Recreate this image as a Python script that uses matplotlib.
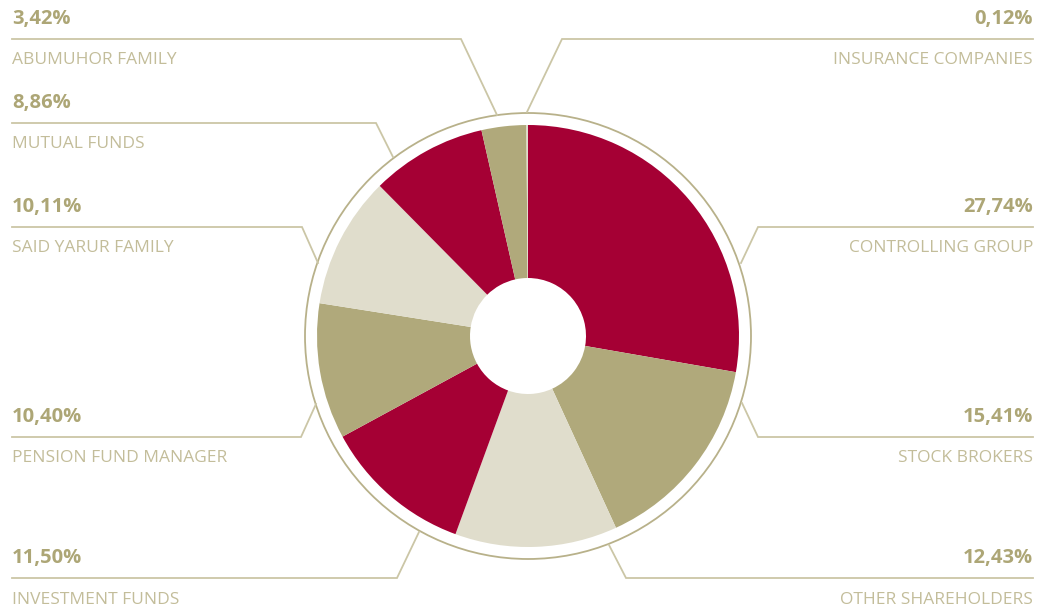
import matplotlib.pyplot as plt
from matplotlib.patches import Circle

# shareholders, clockwise from 12 o'clock
names = ["CONTROLLING GROUP", "STOCK BROKERS", "OTHER SHAREHOLDERS",
         "INVESTMENT FUNDS", "PENSION FUND MANAGER", "SAID YARUR FAMILY",
         "MUTUAL FUNDS", "ABUMUHOR FAMILY", "INSURANCE COMPANIES"]
shares = [27.74, 15.41, 12.43, 11.50, 10.40, 10.11, 8.86, 3.42, 0.12]

crimson = "#A50034"
khaki = "#B0A97B"
light = "#E0DDCC"
slice_colors = [crimson, khaki, light, crimson, khaki, light, crimson, khaki, light]

val_color = "#ADA676"
lab_color = "#C3BD9A"
line_color = "#CBC6A6"

W, H = 1040, 606
def Y(py):
    return H - py

# label layout in pixels: side, line y, bend x, end point on the ring
layout = [
    ("R", 227, 758, (741, 263)),
    ("R", 437, 758, (742, 403)),
    ("R", 578, 626, (609, 545)),
    ("L", 578, 397, (419, 532)),
    ("L", 437, 301, (316, 404)),
    ("L", 227, 302, (318, 263)),
    ("L", 123, 376, (393, 157)),
    ("L", 39, 461, (497, 115)),
    ("R", 39, 562, (527, 112)),
]

fig = plt.figure(figsize=(W / 100, H / 100), dpi=100)
ax = fig.add_axes([0, 0, 1, 1])

cx, cy = 528, 336
ax.pie(shares, colors=slice_colors, startangle=90, counterclock=False,
       radius=211, center=(cx, Y(cy)),
       wedgeprops=dict(width=211 - 58, linewidth=0))
ax.add_patch(Circle((cx, Y(cy)), 223, fill=False, edgecolor="#B8B18A", lw=1.3))

for name, val, (side, ly, bx, (ex, ey)) in zip(names, shares, layout):
    if side == "L":
        xs = [12, bx, ex]
        tx, ha = 12, "left"
    else:
        xs = [1033, bx, ex]
        tx, ha = 1033, "right"
    ax.plot(xs, [Y(ly), Y(ly), Y(ey)], color=line_color, lw=1.3,
            solid_joinstyle="miter")
    ax.text(tx, Y(ly - 20), f"{val:.2f}%".replace(".", ","), ha=ha, va="center",
            fontsize=14.5, fontweight="bold", color=val_color, family="Open Sans")
    ax.text(tx, Y(ly + 21.5), name, ha=ha, va="center", fontsize=12.5,
            color=lab_color, family="Open Sans")

ax.set_xlim(0, W)
ax.set_ylim(0, H)
ax.set_aspect("equal")
ax.axis("off")
fig.savefig("out.png", dpi=100)
